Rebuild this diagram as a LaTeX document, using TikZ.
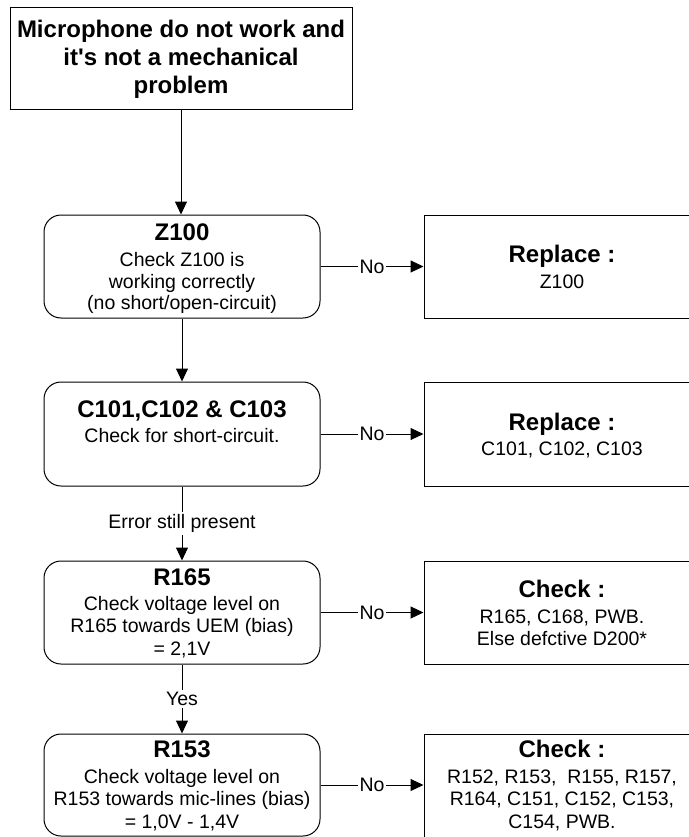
\documentclass[tikz,border=0pt]{standalone}
\usepackage{fontspec}
\setmainfont{Liberation Sans}
\usetikzlibrary{arrows.meta}

\tikzset{
  squarebox/.style={draw=black, line width=1pt, inner sep=0pt, minimum width=276pt},
  roundbox/.style={draw=black, line width=1pt, rounded corners=17pt, inner sep=0pt, minimum width=276pt},
  titletext/.style={font=\fontsize{24}{28}\selectfont\bfseries, anchor=base, inner sep=0pt},
  bodytext/.style={font=\fontsize{19.5}{21.5}\selectfont, anchor=base, inner sep=0pt},
  flowline/.style={draw=black, line width=1pt},
  arrowed/.style={flowline, -{Triangle[length=13pt,width=12pt]}},
  edgelabel/.style={font=\fontsize{19.5}{21.5}\selectfont, fill=white, inner sep=2pt}
}

\begin{document}
\begin{tikzpicture}[x=1pt, y=-1pt]
  \useasboundingbox (0,0) rectangle (688,837);

  % --- boxes ---
  \node[squarebox, minimum width=342pt, minimum height=102pt] (start) at (181,59) {};
  \node[roundbox,  minimum height=103pt] (z100) at (182,266.5) {};
  \node[squarebox, minimum height=103pt] (repz) at (562,266.5) {};
  \node[roundbox,  minimum height=104pt] (c101) at (182,434) {};
  \node[squarebox, minimum height=104pt] (repc) at (562,434) {};
  \node[roundbox,  minimum height=103pt] (r165) at (182,612.5) {};
  \node[squarebox, minimum height=103pt] (chka) at (562,612.5) {};
  \node[roundbox,  minimum height=102pt] (r153) at (182,785) {};
  \node[squarebox, minimum height=106pt] (chkb) at (562,787) {};

  % --- texts of the start box ---
  \node[titletext] (s1) at (181,38) {Microphone do not work and};
  \node[titletext] (s2) at (181,66) {it\textquotesingle s not a mechanical};
  \node[titletext] (s3) at (181,94) {problem};

  % --- Z100 row ---
  \node[titletext] (z1) at (182,240) {Z100};
  \node[bodytext]  (z2) at (182,266.5) {Check Z100 is};
  \node[bodytext]  (z3) at (182,288) {working correctly};
  \node[bodytext]  (z4) at (182,309.5) {(no short/open-circuit)};
  \node[titletext] (rz1) at (562,262) {Replace :};
  \node[bodytext]  (rz2) at (562,288) {Z100};

  % --- C101 row ---
  \node[titletext] (c1) at (182,417) {C101,C102 \& C103};
  \node[bodytext]  (c2) at (182,442) {Check for short-circuit.};
  \node[titletext] (rc1) at (562,430) {Replace :};
  \node[bodytext]  (rc2) at (562,455) {C101, C102, C103};

  % --- R165 row ---
  \node[titletext] (a1) at (182,585) {R165};
  \node[bodytext]  (a2) at (182,610) {Check voltage level on};
  \node[bodytext]  (a3) at (182,632) {R165 towards UEM (bias)};
  \node[bodytext]  (a4) at (182,655) {= 2,1V};
  \node[titletext] (ka1) at (562,597) {Check :};
  \node[bodytext]  (ka2) at (562,623) {R165, C168, PWB.};
  \node[bodytext]  (ka3) at (562,645) {Else defctive D200*};

  % --- R153 row ---
  \node[titletext] (b1) at (182,757) {R153};
  \node[bodytext]  (b2) at (182,783) {Check voltage level on};
  \node[bodytext]  (b3) at (182,805) {R153 towards mic-lines (bias)};
  \node[bodytext]  (b4) at (182,828) {= 1,0V - 1,4V};
  \node[titletext] (kb1) at (562,757) {Check :};
  \node[bodytext]  (kb2) at (562,783) {R152, R153,~ R155, R157,};
  \node[bodytext]  (kb3) at (562,805) {R164, C151, C152, C153,};
  \node[bodytext]  (kb4) at (562,828) {C154, PWB.};

  % --- vertical flow ---
  \draw[arrowed] (start.south) -- (start.south |- z100.north);
  \draw[arrowed] (z100.south) -- (c101.north);
  \draw[arrowed] (c101.south) -- node[edgelabel] {Error still present} (r165.north);
  \draw[arrowed] (r165.south) -- node[edgelabel] {Yes} (r153.north);

  % --- "No" branches ---
  \draw[arrowed] (z100.east) -- node[edgelabel] {No} (repz.west);
  \draw[arrowed] (c101.east) -- node[edgelabel] {No} (repc.west);
  \draw[arrowed] (r165.east) -- node[edgelabel] {No} (chka.west);
  \draw[arrowed] (r153.east) -- node[edgelabel] {No} (r153.east -| chkb.west);
\end{tikzpicture}
\end{document}
